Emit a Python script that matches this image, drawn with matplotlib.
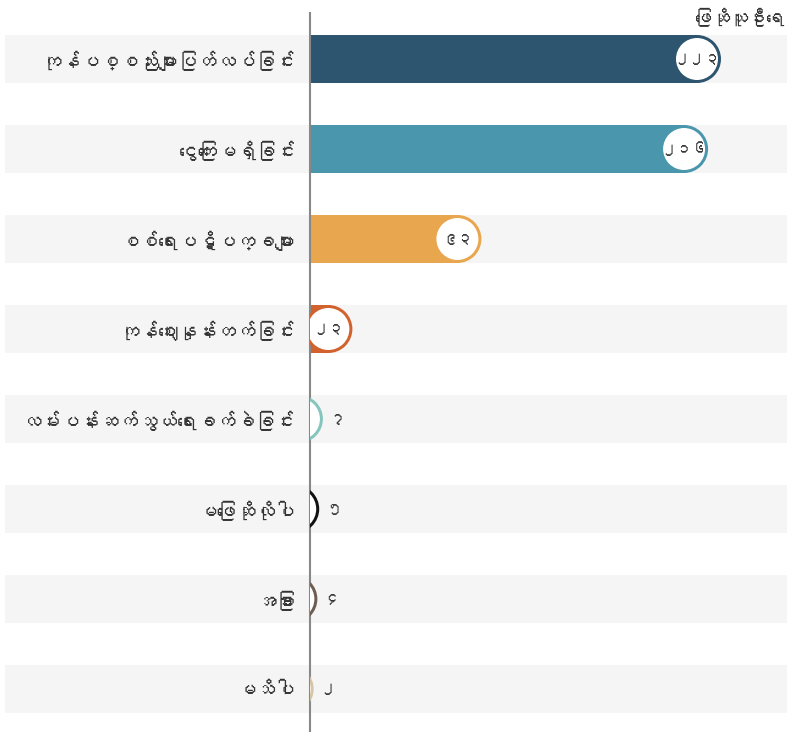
import numpy as np
import matplotlib
matplotlib.use('Agg')
import matplotlib.pyplot as plt
from matplotlib import font_manager as fm
from matplotlib.ft2font import FT2Font

categories = [
    'ကုန်ပစ္စည်းများပြတ်လပ်ခြင်း',
    'ငွေကြေးမရှိခြင်း',
    'စစ်ရေးပဋိပက္ခများ',
    'ကုန်ဈေးနှုန်းတက်ခြင်း',
    'လမ်းပန်းဆက်သွယ်ရေးခက်ခဲခြင်း',
    'မဖြေဆိုလိုပါ',
    'အခြား',
    'မသိပါ',
]
counts = [223, 216, 93, 23, 7, 5, 4, 2]
colors = ['#2e556f', '#4a96ac', '#e8a64e', '#d2622d', '#86c5bd', '#111111', '#6e5d52', '#d6c6a7']
axis_title = 'ဖြေဆိုသူဦးရေ'

MM_DIGITS = str.maketrans('0123456789', '၀၁၂၃၄၅၆၇၈၉')


def find_myanmar_font():
    """first installed font that has Myanmar glyphs, None if there is none"""
    seen = set()
    for f in fm.fontManager.ttflist:
        if f.fname in seen:
            continue
        seen.add(f.fname)
        try:
            cmap = FT2Font(f.fname).get_charmap()
        except Exception:
            continue
        if 0x1000 in cmap and 0x1040 in cmap:
            return f.name
    return None


mm_font = find_myanmar_font()
families = [mm_font, 'DejaVu Sans'] if mm_font else ['DejaVu Sans']
plt.rcParams['font.family'] = families

W, H, DPI = 787, 732, 100
fig = plt.figure(figsize=(W / DPI, H / DPI), dpi=DPI)

top_px = 13
left_px = 310
row_px = 90
first_row_px = 59
band_px = 48

n = len(categories)
y = np.arange(n)
y_top = -(first_row_px - top_px) / row_px
y_bot = y_top + (H - top_px) / row_px
band_h = band_px / row_px

# background bands across the full width
ax_bg = fig.add_axes([0, 0, 1, 1 - top_px / H])
ax_bg.set_xlim(0, W)
ax_bg.set_ylim(y_bot, y_top)
ax_bg.barh(y, W - 5, left=5, height=band_h, color='#f5f5f5')
ax_bg.axis('off')

ax = fig.add_axes([left_px / W, 0, 1 - left_px / W, 1 - top_px / H])
ax.patch.set_alpha(0)
px_per_unit = 1.843
ax.set_xlim(0, (W - left_px) / px_per_unit)
ax.set_ylim(y_bot, y_top)

r_units = (band_px / 2) / px_per_unit
bar_len = [max(c - r_units, 0) for c in counts]
ax.barh(y, bar_len, height=band_h, color=colors)

# round white cap at the bar end
d_px, lw_px = 45, 3
ax.scatter(np.array(counts) - r_units, y, s=(d_px * 72 / DPI) ** 2,
           facecolor='white', edgecolor=colors, linewidth=lw_px * 72 / DPI, zorder=3)

for yi, c in zip(y, counts):
    label = str(c).translate(MM_DIGITS)
    if c >= 20:
        ax.text(c - r_units, yi, label, ha='center', va='center', fontsize=11, color='#333333', zorder=4)
    else:
        ax.text(c + 7 / px_per_unit, yi, label, ha='left', va='center', fontsize=11, color='#333333', zorder=4)

ax.set_yticks(y)
ax.set_yticklabels(categories, fontsize=14, color='#333333')
ax.tick_params(axis='y', length=0, pad=10.5)
ax.set_xticks([])
for s in ['top', 'right', 'bottom']:
    ax.spines[s].set_visible(False)
ax.spines['left'].set_color('#888888')
ax.spines['left'].set_linewidth(1.5)

fig.text(1 - 2 / W, 1 - 17 / H, axis_title, ha='right', va='center', fontsize=13, color='#333333')

fig.savefig('out.png', dpi=DPI)
